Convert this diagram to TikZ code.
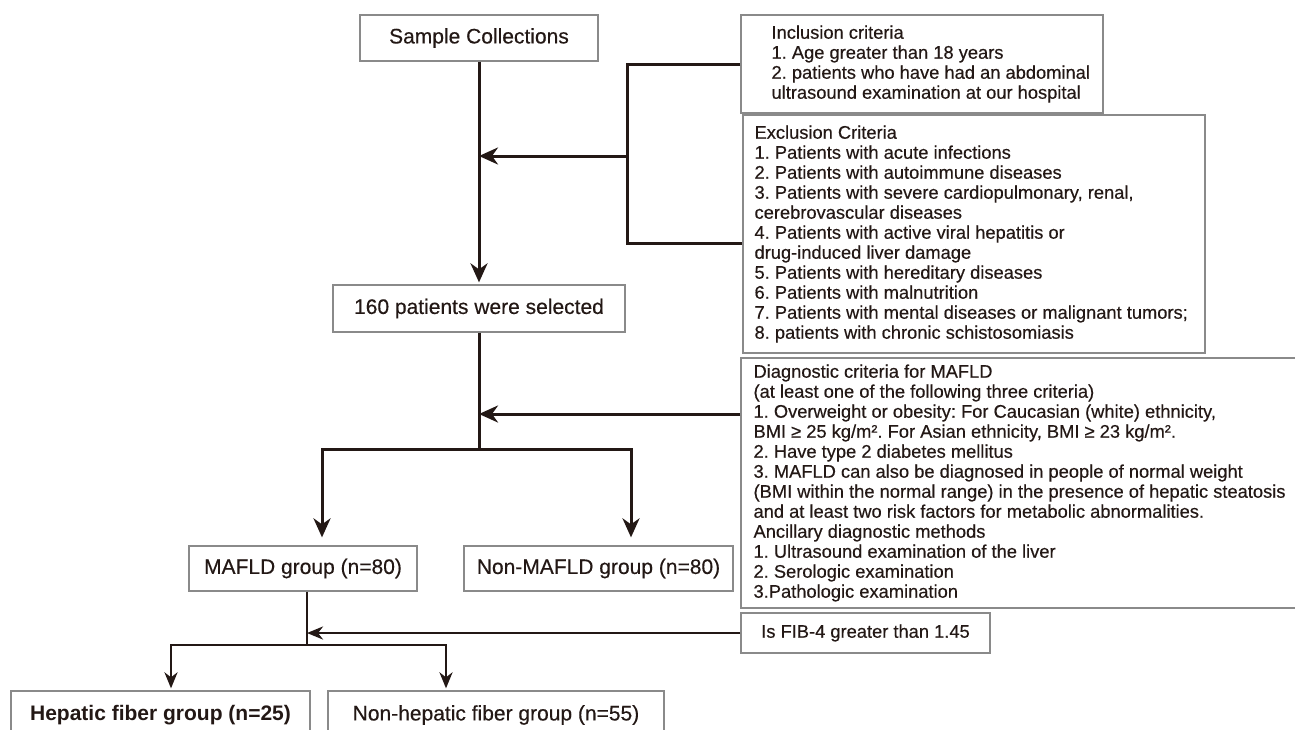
\documentclass[tikz,border=0pt]{standalone}
\usepackage{fontspec}
\setmainfont{Liberation Sans}[UprightFeatures={FakeBold=0.35}]
\usepackage{tikz}
\usetikzlibrary{arrows.meta}
\frenchspacing

\definecolor{linecol}{HTML}{231815}
\definecolor{framecol}{HTML}{8A8A8A}

\begin{document}
\begin{tikzpicture}[
    x=1pt, y=-1pt,
    every node/.style={font=\fontsize{21}{24}\selectfont, text=linecol},
    box/.style={draw=framecol, line width=1.3pt, rectangle, inner sep=0pt},
    crit/.style={align=left, inner sep=0pt, font=\fontsize{18.3}{20}\selectfont},
    link/.style={draw=linecol, line width=3pt},
    arr/.style={link, -{Stealth[length=19pt, width=17pt, inset=6pt]}},
    arrs/.style={link, line width=2.6pt, -{Stealth[length=16pt, width=13pt, inset=5pt]}}
  ]

    \useasboundingbox (0,0) rectangle (1295,729);
    \fill[white] (0,0) rectangle (1295,729);
    \clip (0,0) rectangle (1295,729);

    %------------------ Main flow: boxes ------------------%
    \node[box, minimum width=238, minimum height=46] (sample) at (479,38) {Sample Collections};
    \node[box, minimum width=292, minimum height=47] (sel) at (479,308.5) {160 patients were selected};
    \node[box, minimum width=228, minimum height=45] (mafld) at (303,568.5) {MAFLD group (n=80)};
    \node[box, minimum width=269, minimum height=45] (nonmafld) at (598.5,568.5) {Non-MAFLD group (n=80)};
    \node[box, minimum width=299, minimum height=48] (hep) at (160.5,715) {\bfseries Hepatic fiber group (n=25)};
    \node[box, minimum width=336, minimum height=48] (nonhep) at (496,715) {Non-hepatic fiber group (n=55)};

    %------------------ Criteria boxes ------------------%
    % Inclusion
    \node[box, minimum width=362, minimum height=98] (incl) at (922,64) {};
    \node[crit, anchor=west] (incl-t) at ([xshift=31pt]incl.west) {Inclusion criteria\\
      1. Age greater than 18 years\\
      2. patients who have had an abdominal\\
      ultrasound examination at our hospital};

    % Exclusion
    \node[box, minimum width=462, minimum height=238] (excl) at (974,234) {};
    \node[crit, anchor=west] (excl-t) at ([xshift=12pt]excl.west) {Exclusion Criteria\\
      1. Patients with acute infections\\
      2. Patients with autoimmune diseases\\
      3. Patients with severe cardiopulmonary, renal,\\
      cerebrovascular diseases\\
      4. Patients with active viral hepatitis or\\
      drug-induced liver damage\\
      5. Patients with hereditary diseases\\
      6. Patients with malnutrition\\
      7. Patients with mental diseases or malignant tumors;\\
      8. patients with chronic schistosomiasis};

    % Diagnosis of MAFLD
    \node[box, minimum width=559, minimum height=250] (diag) at (1020.5,483) {};
    \node[crit, anchor=west] (diag-t) at ([xshift=13pt]diag.west) {Diagnostic criteria for MAFLD\\
      (at least one of the following three criteria)\\
      1. Overweight or obesity: For Caucasian (white) ethnicity,\\
      BMI ≥ 25 kg/m². For Asian ethnicity, BMI ≥ 23 kg/m².\\
      2. Have type 2 diabetes mellitus\\
      3. MAFLD can also be diagnosed in people of normal weight\\
      (BMI within the normal range) in the presence of hepatic steatosis\\
      and at least two risk factors for metabolic abnormalities.\\
      Ancillary diagnostic methods\\
      1. Ultrasound examination of the liver\\
      2. Serologic examination\\
      3.Pathologic examination};

    % FIB-4
    \node[box, minimum width=249, minimum height=40, font=\fontsize{18.3}{20}\selectfont] (fib) at (865.5,633) {Is FIB-4 greater than 1.45};

    %------------------ Connectors ------------------%
    \coordinate (brk) at (627,156);
    \coordinate (j1) at (479,449);
    \coordinate (d1) at (479,414);
    \coordinate (j2) at (307,645);

    % Sample -> selected, with exclusion bracket
    \draw[arr, shorten >=2pt] (sample.south) -- (sel.north);
    \draw[link] (incl.west) -| (brk) |- ([yshift=-9pt]excl.west);
    \draw[arr] (brk) -- (brk -| sample.south);

    % Selected -> MAFLD / Non-MAFLD
    \draw[link] (sel.south) -- (j1);
    \draw[arr] (d1 -| diag.west) -- (d1);
    \draw[arr, shorten >=8pt] (j1) -| ([xshift=19pt]mafld.north);
    \draw[arr, shorten >=8pt] (j1) -| ([xshift=32.5pt]nonmafld.north);

    % MAFLD -> fibrosis groups
    \draw[link, line width=2.6pt] ([xshift=4pt]mafld.south) -- (j2);
    \draw[arrs] (fib.west) -- (fib.west -| j2);
    \draw[arrs, shorten >=2pt] (j2) -| ([xshift=10.5pt]hep.north);
    \draw[arrs, shorten >=2pt] (j2) -| ([xshift=-50pt]nonhep.north);

\end{tikzpicture}
\end{document}
